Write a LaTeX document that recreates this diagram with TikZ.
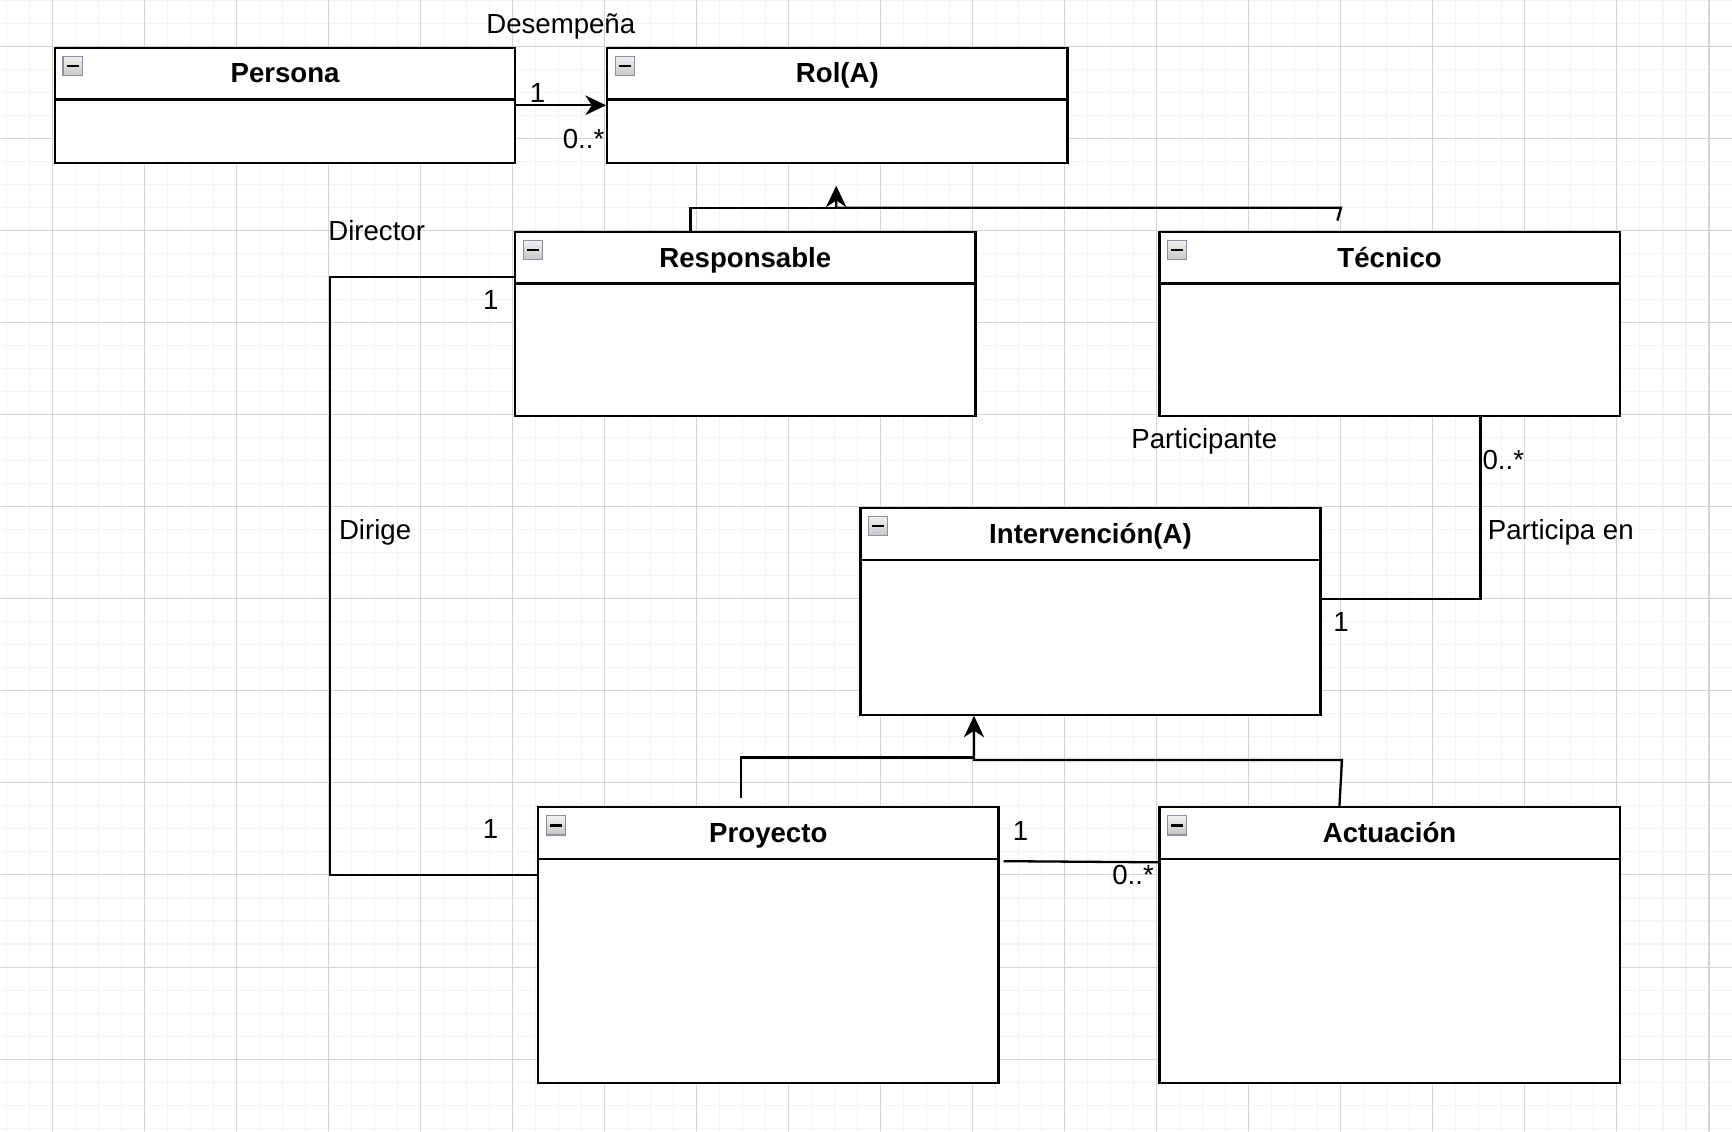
\documentclass[tikz,border=0pt]{standalone}
\usepackage{fontspec}
\setmainfont{Liberation Sans}
\usetikzlibrary{arrows.meta}
\definecolor{rejillafina}{HTML}{F4F4F4}
\definecolor{rejilla}{HTML}{D4D4D4}
\definecolor{bordeicono}{HTML}{8C91A0}
\tikzset{
  clase/.style={draw=black,line width=1pt,fill=white,rectangle,inner sep=0pt,minimum width=200pt,anchor=north west},
  titulo/.style={font=\fontsize{12pt}{14pt}\selectfont\bfseries,inner sep=0pt,text height=8.6pt,text depth=0pt},
  icono/.style={draw=bordeicono,line width=0.6pt,top color=gray!12,bottom color=gray!45,minimum size=8.3pt,inner sep=0pt,
    path picture={\draw[black,line width=1.1pt] ([xshift=-2.7pt]path picture bounding box.center) -- ([xshift=2.7pt]path picture bounding box.center);}},
  etiqueta/.style={font=\fontsize{12pt}{14pt}\selectfont,inner sep=0pt,text height=8.6pt,text depth=0pt},
  flecha/.style={-{Stealth[length=9pt,width=8.5pt,inset=2.8pt]}},
  conector/.style={line width=1pt}
}
\begin{document}
\begin{tikzpicture}[x=1pt,y=-1pt]
	\fill[white] (-23.4,-20.25) rectangle (729.3,471.7);
	\useasboundingbox (-23.4,-20.25) rectangle (729.3,471.7);
	% rejilla
	\begin{scope}[xshift=-0.7pt,line width=0.45pt]
		\foreach \gx in {-20,-10,...,720} \draw[rejillafina] (\gx,-20.25) -- (\gx,471.7);
		\foreach \gy in {-20,-10,...,470} \draw[rejillafina] (-22.7,\gy) -- (730,\gy);
		\foreach \gx in {0,40,...,720} \draw[rejilla] (\gx,-20.25) -- (\gx,471.7);
		\foreach \gy in {0,40,...,440} \draw[rejilla] (-22.7,\gy) -- (730,\gy);
	\end{scope}
	% clases
	\node[clase,minimum height=50pt] (persona) at (0,0) {};
	\draw[conector] ([yshift=-23pt]persona.north west) -- ([yshift=-23pt]persona.north east);
	\node[titulo] (persona-t) at ([yshift=-11.5pt]persona.north) {Persona};
	\node[icono] (persona-i) at ([xshift=8.2pt,yshift=-8.4pt]persona.north west) {};
	\node[clase,minimum height=50pt] (rol) at (240,0) {};
	\draw[conector] ([yshift=-23pt]rol.north west) -- ([yshift=-23pt]rol.north east);
	\node[titulo] (rol-t) at ([yshift=-11.5pt]rol.north) {Rol(A)};
	\node[icono] (rol-i) at ([xshift=8.2pt,yshift=-8.4pt]rol.north west) {};
	\node[clase,minimum height=80pt] (responsable) at (200,80) {};
	\draw[conector] ([yshift=-23pt]responsable.north west) -- ([yshift=-23pt]responsable.north east);
	\node[titulo] (responsable-t) at ([yshift=-11.5pt]responsable.north) {Responsable};
	\node[icono] (responsable-i) at ([xshift=8.2pt,yshift=-8.4pt]responsable.north west) {};
	\node[clase,minimum height=80pt] (tecnico) at (480,80) {};
	\draw[conector] ([yshift=-23pt]tecnico.north west) -- ([yshift=-23pt]tecnico.north east);
	\node[titulo] (tecnico-t) at ([yshift=-11.5pt]tecnico.north) {Técnico};
	\node[icono] (tecnico-i) at ([xshift=8.2pt,yshift=-8.4pt]tecnico.north west) {};
	\node[clase,minimum height=90pt] (intervencion) at (350,200) {};
	\draw[conector] ([yshift=-23pt]intervencion.north west) -- ([yshift=-23pt]intervencion.north east);
	\node[titulo] (intervencion-t) at ([yshift=-11.5pt]intervencion.north) {Intervención(A)};
	\node[icono] (intervencion-i) at ([xshift=8.2pt,yshift=-8.4pt]intervencion.north west) {};
	\node[clase,minimum height=120pt] (proyecto) at (210,330) {};
	\draw[conector] ([yshift=-23pt]proyecto.north west) -- ([yshift=-23pt]proyecto.north east);
	\node[titulo] (proyecto-t) at ([yshift=-11.5pt]proyecto.north) {Proyecto};
	\node[icono] (proyecto-i) at ([xshift=8.2pt,yshift=-8.4pt]proyecto.north west) {};
	\node[clase,minimum height=120pt] (actuacion) at (480,330) {};
	\draw[conector] ([yshift=-23pt]actuacion.north west) -- ([yshift=-23pt]actuacion.north east);
	\node[titulo] (actuacion-t) at ([yshift=-11.5pt]actuacion.north) {Actuación};
	\node[icono] (actuacion-i) at ([xshift=8.2pt,yshift=-8.4pt]actuacion.north west) {};
	% conectores
	\coordinate (rol-gen) at (340,60.6);
	\coordinate (tec-gen) at (557.8,75.6);
	\coordinate (pro-gen) at (298.6,326.7);
	\draw[conector,flecha] (persona.east) -- (rol.west);
	\draw[conector,flecha] ([xshift=76.7pt]responsable.north west) -- ++(0,-10) -| (rol-gen);
	\draw[conector,flecha] (tec-gen) -- ++(1.6,-5.6) -| (rol-gen);
	\draw[conector] ([yshift=-20pt]responsable.north west) -- ++(-80,0) |- ([yshift=-30pt]proyecto.north west);
	\draw[conector] ([xshift=140pt]tecnico.south west) |- ([yshift=-40pt]intervencion.north east);
	\draw[conector,flecha] (pro-gen) -- ++(0,-17.7) -| ([xshift=49.9pt]intervencion.south west);
	\draw[conector,flecha] ([xshift=78.7pt]actuacion.north west) -- ++(1.1,-20) -| ([xshift=49.9pt]intervencion.south west);
	\draw[conector] ([xshift=1.8pt,yshift=-24pt]proyecto.north east) -- ([yshift=-24.5pt]actuacion.north west);
	% etiquetas
	\node[etiqueta] (desempena) at (220.3,-9.8) {Desempeña};
	\node[etiqueta] (m-persona) at (210.2,20) {1};
	\node[etiqueta] (m-rol) at (230.2,39.8) {0..*};
	\node[etiqueta] (director) at (140.3,80.1) {Director};
	\node[etiqueta] (m-resp) at (189.9,110.1) {1};
	\node[etiqueta] (dirige) at (139.6,209.8) {Dirige};
	\node[etiqueta] (m-proy) at (189.8,339.7) {1};
	\node[etiqueta] (participante) at (500,170.2) {Participante};
	\node[etiqueta] (m-tec) at (629.9,179.6) {0..*};
	\node[etiqueta] (participa) at (654.9,210) {Participa en};
	\node[etiqueta] (m-interv) at (559.4,249.9) {1};
	\node[etiqueta] (m-proy2) at (420.1,340.5) {1};
	\node[etiqueta] (m-act) at (469,360) {0..*};
\end{tikzpicture}
\end{document}
